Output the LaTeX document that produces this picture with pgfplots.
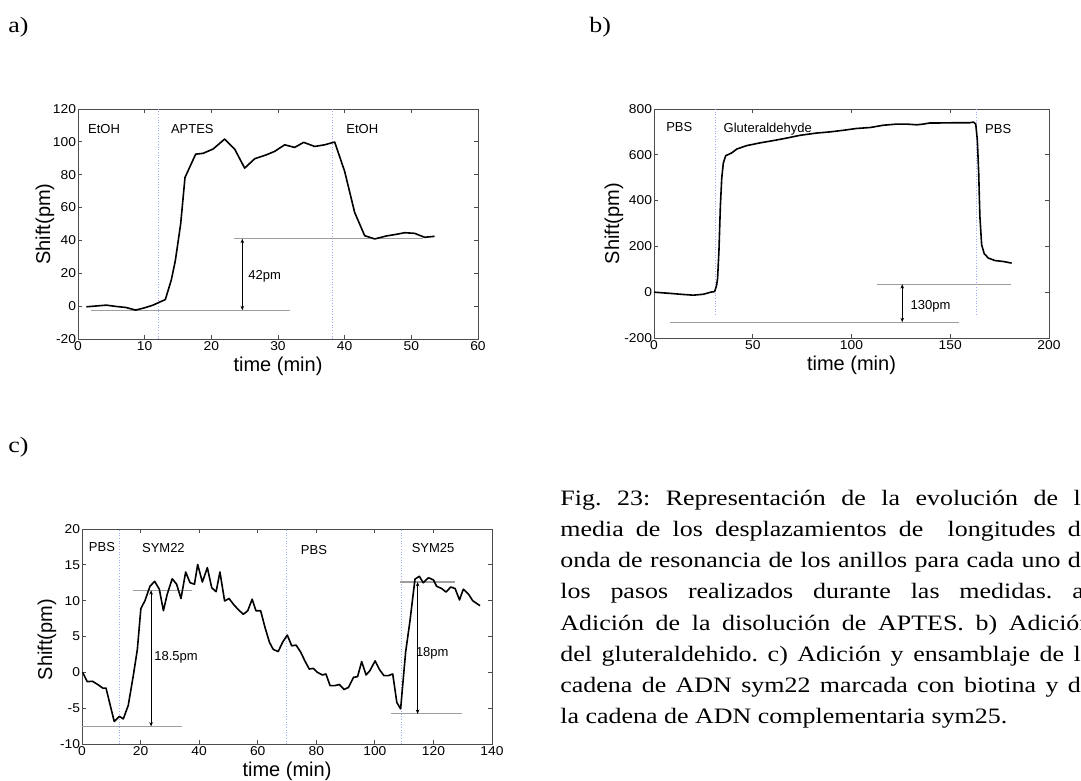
\documentclass[border=0pt]{standalone}
\usepackage{fontspec}
\setmainfont{Liberation Serif}
\newfontfamily\arial{Liberation Sans}
\newfontfamily\capfont[FakeStretch=1.18]{Liberation Serif}
\newfontfamily\tickfont[FakeStretch=1.08]{Liberation Sans}
\usepackage{pgfplots}
\pgfplotsset{compat=1.18}
\usetikzlibrary{arrows.meta}
\newlength{\capw}
\setlength{\capw}{266pt}
\definecolor{vblue}{rgb}{0.62,0.66,1}
\definecolor{hgray}{rgb}{0.62,0.62,0.62}
\frenchspacing
\pgfplotsset{
  matl/.style={
    scale only axis, anchor=south west, clip=false,
    axis line style={draw=black!70, line width=0.4pt},
    tick style={draw=black!70, line width=0.4pt},
    major tick length=2pt, tick align=inside,
    xtick pos=both, ytick pos=both,
    scaled ticks=false,
    /pgf/number format/assume math mode=true,
    ticklabel style={font=\tickfont\fontsize{6.4}{8}\selectfont},
    label style={font=\arial\fontsize{10}{12}\selectfont},
    yticklabel style={inner xsep=0.8pt},
    xticklabel style={inner ysep=1.2pt},
    xlabel style={at={(axis description cs:0.5,0)}, anchor=center, yshift=-13.5pt},
    ylabel style={at={(axis description cs:0,0.5)}, anchor=center},
  },
}
\tikzset{
  curve/.style={black, line width=0.8pt, line join=round},
  vline/.style={vblue, line width=0.35pt, densely dotted},
  hline/.style={hgray, line width=0.6pt},
  dim/.style={black, line width=0.35pt, {Stealth[length=2.2pt,width=1.8pt]}-{Stealth[length=2.2pt,width=1.8pt]}},
  ann/.style={font=\arial\fontsize{6.5}{8}\selectfont, inner sep=0pt},
}
\newcommand{\jl}[1]{\hbox to \capw{\frenchspacing\spaceskip=0.25em plus 3em minus 0.1em\relax #1}}
\begin{document}
\begin{tikzpicture}
\useasboundingbox (0,0) rectangle (540.5pt,390.5pt);
\clip (0,0) rectangle (540.5pt,390.5pt);
% panel labels
\node[anchor=base west, inner sep=0, font=\capfont\fontsize{11}{15.6}\selectfont] at (4pt,374pt) {a)};
\node[anchor=base west, inner sep=0, font=\capfont\fontsize{11}{15.6}\selectfont] at (294.5pt,374pt) {b)};
\node[anchor=base west, inner sep=0, font=\capfont\fontsize{11}{15.6}\selectfont] at (4pt,164pt) {c)};

% ---------- a) ----------
\begin{axis}[matl, at={(39pt,221pt)}, width=200pt, height=115pt,
  xmin=0, xmax=60, ymin=-20, ymax=120,
  xtick={0,10,...,60}, ytick={-20,0,...,120},
  xlabel={time (min)}, ylabel={Shift(pm)},
  ylabel style={yshift=16.5pt}]
\draw[vline] (axis cs:12,-20) -- (axis cs:12,120);
\draw[vline] (axis cs:38.1,-20) -- (axis cs:38.1,120);
\draw[hline] (axis cs:2,-2.5) -- (axis cs:31.85,-2.5);
\draw[hline] (axis cs:23.4,41) -- (axis cs:51.75,41);
\draw[dim] (axis cs:24.65,-2.5) -- (axis cs:24.65,41);
\node[ann] at (axis cs:28,18.3) {42pm};
\node[ann] at (axis cs:3.9,108) {EtOH};
\node[ann] at (axis cs:17.15,108) {APTES};
\node[ann] at (axis cs:42.65,107.8) {EtOH};
\addplot[curve] coordinates {
(1.25,-0.4) (4.25,0.6) (5.75,-0.2) (7.15,-0.8) (8.65,-2.4) (10,-1) (11.25,0.6)
(12,2) (13.1,4) (14,16) (14.6,27.7) (15.4,50) (16.05,78.3) (17.65,92.5)
(18.75,93) (20.25,95.6) (22,101.7) (23.5,95.6) (25,84) (26.5,89.7) (28.25,92.1)
(29.5,94.2) (31,98.2) (32.5,96.6) (33.85,99.7) (35.5,97.2) (37,98.2) (38.5,99.9)
(40,82) (41.5,57) (43,42.9) (44.5,40.9) (46.25,42.7) (47.75,43.7) (49,44.7)
(50.5,44.3) (52,41.9) (53.5,42.5)};
\end{axis}

% ---------- b) ----------
\begin{axis}[matl, at={(327pt,221.5pt)}, width=197.5pt, height=114.5pt,
  xmin=0, xmax=200, ymin=-200, ymax=800,
  xtick={0,50,...,200}, ytick={-200,0,...,800},
  xlabel={time (min)}, ylabel={Shift(pm)},
  ylabel style={yshift=20pt}]
\draw[vline] (axis cs:30.9,800) -- (axis cs:30.9,-100);
\draw[vline] (axis cs:163,800) -- (axis cs:163,-100);
\draw[hline] (axis cs:112.7,35) -- (axis cs:180.8,35);
\draw[hline] (axis cs:8.1,-131) -- (axis cs:154.4,-131);
\draw[dim] (axis cs:125.7,-131) -- (axis cs:125.7,35);
\node[ann] at (axis cs:140,-63) {130pm};
\node[ann] at (axis cs:12.8,720) {PBS};
\node[ann] at (axis cs:57.6,713) {Gluteraldehyde};
\node[ann] at (axis cs:174.3,713) {PBS};
\addplot[curve] coordinates {
(0,0) (6.4,-4) (14.9,-10) (19.9,-13) (25,-9) (28.7,0) (30.7,3) (31.7,30)
(32.2,61) (32.9,185) (33.6,375) (34.3,498) (35.1,564) (36.3,596) (39.3,608)
(41.9,625) (46.9,640) (53.7,652) (60.4,662) (67.2,673) (73.9,685) (82.4,695)
(89.1,700) (95.9,707) (102.6,715) (109.4,719) (116.1,729) (122.9,734) (128,734)
(133,731) (136.4,734) (139.7,739) (144.8,739) (153.3,740) (160,740) (161.7,743)
(162.9,734) (163.7,666) (164.4,520) (165,331) (165.9,207) (167.2,168) (169.3,149)
(172.7,138) (176.9,134) (181.1,127)};
\end{axis}

% ---------- c) ----------
\begin{axis}[matl, at={(41pt,18.5pt)}, width=205pt, height=107.5pt,
  xmin=0, xmax=140, ymin=-10, ymax=20,
  xtick={0,20,...,140}, ytick={-10,-5,...,20},
  xlabel={time (min)}, ylabel={Shift(pm)},
  ylabel style={yshift=17.5pt, xshift=-1.5pt}]
\draw[vline] (axis cs:12.8,-10) -- (axis cs:12.8,20);
\draw[vline] (axis cs:69.9,-10) -- (axis cs:69.9,20);
\draw[vline] (axis cs:109.1,-10) -- (axis cs:109.1,20);
\draw[hline] (axis cs:0,-7.55) -- (axis cs:34,-7.55);
\draw[hline] (axis cs:17.5,11.45) -- (axis cs:37.4,11.45);
\draw[dim] (axis cs:23.6,-7.55) -- (axis cs:23.6,11.45);
\draw[hline] (axis cs:108.6,12.6) -- (axis cs:127.4,12.6);
\draw[hline] (axis cs:105.5,-5.8) -- (axis cs:129.6,-5.8);
\draw[dim] (axis cs:114.6,-5.8) -- (axis cs:114.6,12.6);
\node[ann] at (axis cs:32.1,2.1) {18.5pm};
\node[ann] at (axis cs:119.6,2.6) {18pm};
\node[ann] at (axis cs:6.8,17.45) {PBS};
\node[ann] at (axis cs:27.8,17.4) {SYM22};
\node[ann] at (axis cs:79.2,17.1) {PBS};
\node[ann] at (axis cs:119.9,17.4) {SYM25};
\addplot[curve] coordinates {
(0.2,0) (1.8,-1.3) (3.6,-1.25) (5.6,-1.76) (7.1,-2.2) (8.2,-2.2) (11.0,-6.85)
(12.75,-6.15) (14.1,-6.5) (15.8,-4.6) (17.5,-0.5) (18.9,3.2) (20.1,8.9) (21.5,10)
(23.2,12) (24.8,12.7) (26.4,11.6) (27.8,8.6) (29.1,10.9) (30.8,13.05) (32.3,12.3)
(33.8,10.3) (35.4,14) (36.9,12.5) (38.4,12.3) (39.5,15.05) (41.1,12.6) (42.8,14.6)
(44.3,11.8) (45.8,11.25) (47.1,14) (48.7,9.95) (50.2,10.3) (51.9,9.4) (53.5,8.7)
(55.1,8.1) (56.6,8.6) (58.1,10.2) (59.4,8.6) (61,8.6) (62.5,6.25) (64,4.2)
(65.3,3.2) (67,2.9) (68.5,4.2) (70.1,5.2) (71.6,3.7) (73.1,3.8) (74.7,2.8)
(76.1,1.6) (77.6,0.46) (79,0.55) (80.4,0) (82.1,-0.37) (83.3,-0.23) (84.7,-1.85)
(86.4,-1.85) (87.9,-1.7) (89.5,-2.4) (91,-2.1) (92.7,-0.7) (94.1,-0.6) (95.5,1.5)
(97,-0.37) (98.3,0.23) (100.1,1.6) (101.6,0.37) (103.1,-0.46) (104.6,-0.46)
(106.1,-0.23) (107.5,-4.2) (108.8,-5.1) (110.5,2.8) (112,7.2) (113.7,13)
(115.2,13.4) (116.5,12.5) (118.3,13.2) (120,12.9) (121.1,12) (122.8,11.7)
(124.3,11.2) (125.9,11.9) (127.4,11.7) (128.9,10.1) (130.2,11.6) (132,10.9)
(133.4,10) (135.9,9.3)};
\end{axis}

% ---------- caption ----------
\begin{scope}[every node/.style={anchor=base west, inner sep=0, font=\capfont\fontsize{11}{15.6}\selectfont}]
\node at (280pt,137.5pt) {\jl{Fig. 23: Representación de la evolución de la}};
\node at (280pt,122pt) {\jl{media de los desplazamientos de \ longitudes de}};
\node at (280pt,106.5pt) {\jl{onda de resonancia de los anillos para cada uno de}};
\node at (280pt,91pt) {\jl{los pasos realizados durante las medidas. a)}};
\node at (280pt,75pt) {\jl{Adición de la disolución de APTES. b) Adición}};
\node at (280pt,59.5pt) {\jl{del gluteraldehido. c) Adición y ensamblaje de la}};
\node at (280pt,44pt) {\jl{cadena de ADN sym22 marcada con biotina y de}};
\node at (280pt,28.5pt) {\frenchspacing la cadena de ADN complementaria sym25.};
\end{scope}
\end{tikzpicture}
\end{document}
